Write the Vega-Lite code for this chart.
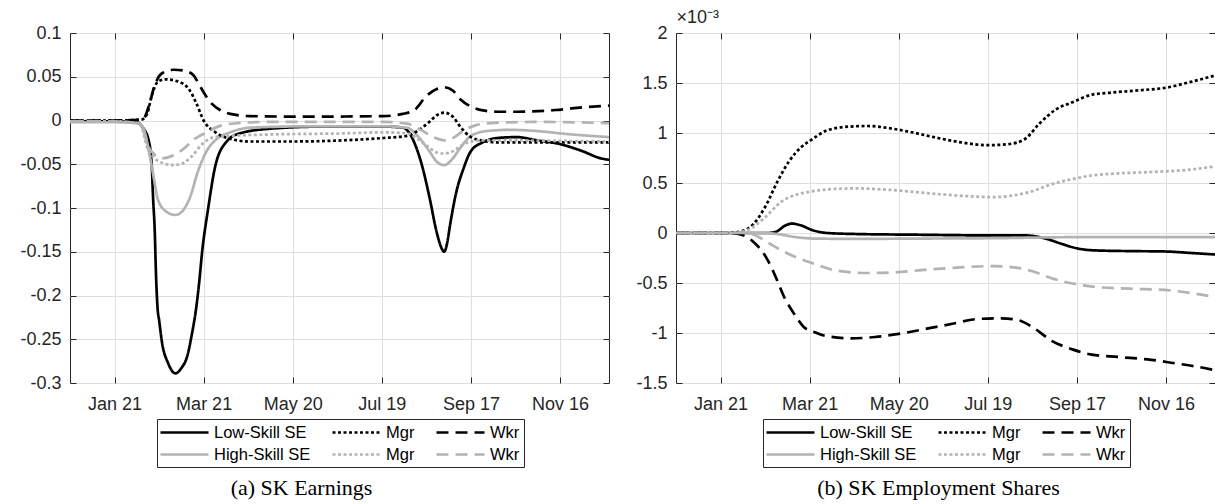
{
  "$schema": "https://vega.github.io/schema/vega-lite/v6.json",
  "background": "white",
  "padding": {"left": 19, "top": 7, "right": 1, "bottom": 6},
  "bounds": "flush",
  "spacing": 67,
  "config": {"view": {"stroke": "#262626", "strokeWidth": 1}},
  "datasets": {
    "earn": [
      {"date":"2019-12-22","series":"Low-Skill SE","value":-0.001},
      {"date":"2020-01-21","series":"Low-Skill SE","value":-0.001},
      {"date":"2020-02-05","series":"Low-Skill SE","value":-0.002},
      {"date":"2020-02-09","series":"Low-Skill SE","value":-0.008},
      {"date":"2020-02-13","series":"Low-Skill SE","value":-0.023},
      {"date":"2020-02-15","series":"Low-Skill SE","value":-0.05},
      {"date":"2020-02-16","series":"Low-Skill SE","value":-0.09},
      {"date":"2020-02-17","series":"Low-Skill SE","value":-0.123},
      {"date":"2020-02-18","series":"Low-Skill SE","value":-0.18},
      {"date":"2020-02-19","series":"Low-Skill SE","value":-0.215},
      {"date":"2020-02-20","series":"Low-Skill SE","value":-0.228},
      {"date":"2020-02-22","series":"Low-Skill SE","value":-0.254},
      {"date":"2020-02-26","series":"Low-Skill SE","value":-0.277},
      {"date":"2020-03-02","series":"Low-Skill SE","value":-0.289},
      {"date":"2020-03-06","series":"Low-Skill SE","value":-0.283},
      {"date":"2020-03-10","series":"Low-Skill SE","value":-0.269},
      {"date":"2020-03-13","series":"Low-Skill SE","value":-0.245},
      {"date":"2020-03-16","series":"Low-Skill SE","value":-0.214},
      {"date":"2020-03-18","series":"Low-Skill SE","value":-0.185},
      {"date":"2020-03-20","series":"Low-Skill SE","value":-0.15},
      {"date":"2020-03-24","series":"Low-Skill SE","value":-0.101},
      {"date":"2020-03-29","series":"Low-Skill SE","value":-0.051},
      {"date":"2020-04-06","series":"Low-Skill SE","value":-0.023},
      {"date":"2020-04-13","series":"Low-Skill SE","value":-0.0155},
      {"date":"2020-05-04","series":"Low-Skill SE","value":-0.0095},
      {"date":"2020-06-09","series":"Low-Skill SE","value":-0.007},
      {"date":"2020-07-20","series":"Low-Skill SE","value":-0.007},
      {"date":"2020-08-02","series":"Low-Skill SE","value":-0.008},
      {"date":"2020-08-07","series":"Low-Skill SE","value":-0.0155},
      {"date":"2020-08-11","series":"Low-Skill SE","value":-0.03},
      {"date":"2020-08-15","series":"Low-Skill SE","value":-0.051},
      {"date":"2020-08-20","series":"Low-Skill SE","value":-0.087},
      {"date":"2020-08-25","series":"Low-Skill SE","value":-0.128},
      {"date":"2020-08-28","series":"Low-Skill SE","value":-0.145},
      {"date":"2020-08-30","series":"Low-Skill SE","value":-0.15},
      {"date":"2020-09-01","series":"Low-Skill SE","value":-0.14},
      {"date":"2020-09-03","series":"Low-Skill SE","value":-0.119},
      {"date":"2020-09-07","series":"Low-Skill SE","value":-0.083},
      {"date":"2020-09-12","series":"Low-Skill SE","value":-0.055},
      {"date":"2020-09-17","series":"Low-Skill SE","value":-0.035},
      {"date":"2020-09-25","series":"Low-Skill SE","value":-0.025},
      {"date":"2020-10-05","series":"Low-Skill SE","value":-0.02},
      {"date":"2020-10-18","series":"Low-Skill SE","value":-0.019},
      {"date":"2020-10-31","series":"Low-Skill SE","value":-0.0225},
      {"date":"2020-11-16","series":"Low-Skill SE","value":-0.027},
      {"date":"2020-12-01","series":"Low-Skill SE","value":-0.035},
      {"date":"2020-12-13","series":"Low-Skill SE","value":-0.043},
      {"date":"2020-12-19","series":"Low-Skill SE","value":-0.045},

      {"date":"2019-12-22","series":"High-Skill SE","value":-0.002},
      {"date":"2020-01-21","series":"High-Skill SE","value":-0.002},
      {"date":"2020-02-06","series":"High-Skill SE","value":-0.003},
      {"date":"2020-02-10","series":"High-Skill SE","value":-0.0115},
      {"date":"2020-02-14","series":"High-Skill SE","value":-0.043},
      {"date":"2020-02-17","series":"High-Skill SE","value":-0.071},
      {"date":"2020-02-19","series":"High-Skill SE","value":-0.089},
      {"date":"2020-02-24","series":"High-Skill SE","value":-0.103},
      {"date":"2020-03-02","series":"High-Skill SE","value":-0.108},
      {"date":"2020-03-07","series":"High-Skill SE","value":-0.103},
      {"date":"2020-03-12","series":"High-Skill SE","value":-0.087},
      {"date":"2020-03-17","series":"High-Skill SE","value":-0.059},
      {"date":"2020-03-23","series":"High-Skill SE","value":-0.035},
      {"date":"2020-03-30","series":"High-Skill SE","value":-0.021},
      {"date":"2020-04-08","series":"High-Skill SE","value":-0.0135},
      {"date":"2020-04-21","series":"High-Skill SE","value":-0.0083},
      {"date":"2020-05-30","series":"High-Skill SE","value":-0.0067},
      {"date":"2020-07-20","series":"High-Skill SE","value":-0.0067},
      {"date":"2020-08-05","series":"High-Skill SE","value":-0.0083},
      {"date":"2020-08-12","series":"High-Skill SE","value":-0.0175},
      {"date":"2020-08-20","series":"High-Skill SE","value":-0.035},
      {"date":"2020-08-25","series":"High-Skill SE","value":-0.047},
      {"date":"2020-08-30","series":"High-Skill SE","value":-0.051},
      {"date":"2020-09-04","series":"High-Skill SE","value":-0.045},
      {"date":"2020-09-10","series":"High-Skill SE","value":-0.031},
      {"date":"2020-09-17","series":"High-Skill SE","value":-0.0175},
      {"date":"2020-09-28","series":"High-Skill SE","value":-0.012},
      {"date":"2020-10-13","series":"High-Skill SE","value":-0.0107},
      {"date":"2020-10-31","series":"High-Skill SE","value":-0.012},
      {"date":"2020-11-21","series":"High-Skill SE","value":-0.0155},
      {"date":"2020-12-19","series":"High-Skill SE","value":-0.019},

      {"date":"2019-12-22","series":"Low Mgr","value":0},
      {"date":"2020-01-21","series":"Low Mgr","value":0},
      {"date":"2020-02-08","series":"Low Mgr","value":0.001},
      {"date":"2020-02-12","series":"Low Mgr","value":0.008},
      {"date":"2020-02-15","series":"Low Mgr","value":0.028},
      {"date":"2020-02-19","series":"Low Mgr","value":0.044},
      {"date":"2020-02-24","series":"Low Mgr","value":0.047},
      {"date":"2020-03-03","series":"Low Mgr","value":0.045},
      {"date":"2020-03-11","series":"Low Mgr","value":0.036},
      {"date":"2020-03-16","series":"Low Mgr","value":0.02},
      {"date":"2020-03-21","series":"Low Mgr","value":0},
      {"date":"2020-03-29","series":"Low Mgr","value":-0.0135},
      {"date":"2020-04-08","series":"Low Mgr","value":-0.021},
      {"date":"2020-04-21","series":"Low Mgr","value":-0.024},
      {"date":"2020-05-20","series":"Low Mgr","value":-0.024},
      {"date":"2020-06-24","series":"Low Mgr","value":-0.0226},
      {"date":"2020-07-20","series":"Low Mgr","value":-0.02},
      {"date":"2020-08-05","series":"Low Mgr","value":-0.0175},
      {"date":"2020-08-12","series":"Low Mgr","value":-0.012},
      {"date":"2020-08-20","series":"Low Mgr","value":-0.0016},
      {"date":"2020-08-25","series":"Low Mgr","value":0.006},
      {"date":"2020-08-30","series":"Low Mgr","value":0.009},
      {"date":"2020-09-05","series":"Low Mgr","value":0.004},
      {"date":"2020-09-10","series":"Low Mgr","value":-0.0075},
      {"date":"2020-09-17","series":"Low Mgr","value":-0.019},
      {"date":"2020-09-25","series":"Low Mgr","value":-0.023},
      {"date":"2020-10-05","series":"Low Mgr","value":-0.025},
      {"date":"2020-10-31","series":"Low Mgr","value":-0.025},
      {"date":"2020-12-19","series":"Low Mgr","value":-0.025},

      {"date":"2019-12-22","series":"High Mgr","value":-0.001},
      {"date":"2020-01-21","series":"High Mgr","value":-0.001},
      {"date":"2020-02-07","series":"High Mgr","value":-0.003},
      {"date":"2020-02-12","series":"High Mgr","value":-0.031},
      {"date":"2020-02-17","series":"High Mgr","value":-0.043},
      {"date":"2020-02-23","series":"High Mgr","value":-0.049},
      {"date":"2020-03-01","series":"High Mgr","value":-0.051},
      {"date":"2020-03-07","series":"High Mgr","value":-0.049},
      {"date":"2020-03-13","series":"High Mgr","value":-0.041},
      {"date":"2020-03-20","series":"High Mgr","value":-0.027},
      {"date":"2020-03-28","series":"High Mgr","value":-0.019},
      {"date":"2020-04-08","series":"High Mgr","value":-0.0175},
      {"date":"2020-05-04","series":"High Mgr","value":-0.016},
      {"date":"2020-06-24","series":"High Mgr","value":-0.0147},
      {"date":"2020-07-20","series":"High Mgr","value":-0.0135},
      {"date":"2020-08-05","series":"High Mgr","value":-0.0147},
      {"date":"2020-08-12","series":"High Mgr","value":-0.021},
      {"date":"2020-08-20","series":"High Mgr","value":-0.031},
      {"date":"2020-08-25","series":"High Mgr","value":-0.0365},
      {"date":"2020-08-30","series":"High Mgr","value":-0.0377},
      {"date":"2020-09-05","series":"High Mgr","value":-0.035},
      {"date":"2020-09-12","series":"High Mgr","value":-0.027},
      {"date":"2020-09-22","series":"High Mgr","value":-0.023},
      {"date":"2020-10-05","series":"High Mgr","value":-0.0226},
      {"date":"2020-10-31","series":"High Mgr","value":-0.023},
      {"date":"2020-12-19","series":"High Mgr","value":-0.024},

      {"date":"2019-12-22","series":"Low Wkr","value":0},
      {"date":"2020-01-21","series":"Low Wkr","value":0},
      {"date":"2020-02-09","series":"Low Wkr","value":0.001},
      {"date":"2020-02-13","series":"Low Wkr","value":0.016},
      {"date":"2020-02-17","series":"Low Wkr","value":0.04},
      {"date":"2020-02-22","series":"Low Wkr","value":0.054},
      {"date":"2020-03-01","series":"Low Wkr","value":0.058},
      {"date":"2020-03-08","series":"Low Wkr","value":0.057},
      {"date":"2020-03-14","series":"Low Wkr","value":0.052},
      {"date":"2020-03-19","series":"Low Wkr","value":0.038},
      {"date":"2020-03-25","series":"Low Wkr","value":0.022},
      {"date":"2020-04-01","series":"Low Wkr","value":0.012},
      {"date":"2020-04-08","series":"Low Wkr","value":0.0075},
      {"date":"2020-04-21","series":"Low Wkr","value":0.005},
      {"date":"2020-05-30","series":"Low Wkr","value":0.0044},
      {"date":"2020-07-20","series":"Low Wkr","value":0.005},
      {"date":"2020-08-02","series":"Low Wkr","value":0.0075},
      {"date":"2020-08-10","series":"Low Wkr","value":0.012},
      {"date":"2020-08-18","series":"Low Wkr","value":0.028},
      {"date":"2020-08-25","series":"Low Wkr","value":0.036},
      {"date":"2020-08-30","series":"Low Wkr","value":0.038},
      {"date":"2020-09-05","series":"Low Wkr","value":0.034},
      {"date":"2020-09-10","series":"Low Wkr","value":0.024},
      {"date":"2020-09-17","series":"Low Wkr","value":0.016},
      {"date":"2020-09-25","series":"Low Wkr","value":0.0115},
      {"date":"2020-10-05","series":"Low Wkr","value":0.01},
      {"date":"2020-10-18","series":"Low Wkr","value":0.01},
      {"date":"2020-11-13","series":"Low Wkr","value":0.012},
      {"date":"2020-12-01","series":"Low Wkr","value":0.015},
      {"date":"2020-12-19","series":"Low Wkr","value":0.017},

      {"date":"2019-12-22","series":"High Wkr","value":-0.001},
      {"date":"2020-01-21","series":"High Wkr","value":-0.001},
      {"date":"2020-02-08","series":"High Wkr","value":-0.004},
      {"date":"2020-02-12","series":"High Wkr","value":-0.027},
      {"date":"2020-02-17","series":"High Wkr","value":-0.039},
      {"date":"2020-02-23","series":"High Wkr","value":-0.043},
      {"date":"2020-02-28","series":"High Wkr","value":-0.041},
      {"date":"2020-03-07","series":"High Wkr","value":-0.033},
      {"date":"2020-03-15","series":"High Wkr","value":-0.021},
      {"date":"2020-03-23","series":"High Wkr","value":-0.0135},
      {"date":"2020-04-02","series":"High Wkr","value":-0.0056},
      {"date":"2020-04-13","series":"High Wkr","value":-0.003},
      {"date":"2020-05-04","series":"High Wkr","value":-0.0016},
      {"date":"2020-07-20","series":"High Wkr","value":-0.0016},
      {"date":"2020-08-05","series":"High Wkr","value":-0.0036},
      {"date":"2020-08-15","series":"High Wkr","value":-0.0115},
      {"date":"2020-08-23","series":"High Wkr","value":-0.019},
      {"date":"2020-08-30","series":"High Wkr","value":-0.0226},
      {"date":"2020-09-06","series":"High Wkr","value":-0.019},
      {"date":"2020-09-12","series":"High Wkr","value":-0.0115},
      {"date":"2020-09-20","series":"High Wkr","value":-0.0056},
      {"date":"2020-09-30","series":"High Wkr","value":-0.003},
      {"date":"2020-10-31","series":"High Wkr","value":-0.0016},
      {"date":"2020-12-19","series":"High Wkr","value":-0.003}
    ],
    "emp": [
      {"date":"2019-12-22","series":"Low-Skill SE","value":0},
      {"date":"2020-02-22","series":"Low-Skill SE","value":0},
      {"date":"2020-02-28","series":"Low-Skill SE","value":0.000017},
      {"date":"2020-03-04","series":"Low-Skill SE","value":0.00007},
      {"date":"2020-03-09","series":"Low-Skill SE","value":0.000094},
      {"date":"2020-03-15","series":"Low-Skill SE","value":0.000077},
      {"date":"2020-03-23","series":"Low-Skill SE","value":0.000028},
      {"date":"2020-04-02","series":"Low-Skill SE","value":0},
      {"date":"2020-04-21","series":"Low-Skill SE","value":-0.00001},
      {"date":"2020-05-31","series":"Low-Skill SE","value":-0.000017},
      {"date":"2020-07-22","series":"Low-Skill SE","value":-0.000024},
      {"date":"2020-08-13","series":"Low-Skill SE","value":-0.000024},
      {"date":"2020-08-26","series":"Low-Skill SE","value":-0.000052},
      {"date":"2020-09-06","series":"Low-Skill SE","value":-0.000105},
      {"date":"2020-09-16","series":"Low-Skill SE","value":-0.00015},
      {"date":"2020-09-29","series":"Low-Skill SE","value":-0.000174},
      {"date":"2020-10-23","series":"Low-Skill SE","value":-0.000181},
      {"date":"2020-11-16","series":"Low-Skill SE","value":-0.000185},
      {"date":"2020-12-02","series":"Low-Skill SE","value":-0.000199},
      {"date":"2020-12-19","series":"Low-Skill SE","value":-0.000215},

      {"date":"2019-12-22","series":"High-Skill SE","value":0},
      {"date":"2020-02-20","series":"High-Skill SE","value":0},
      {"date":"2020-02-28","series":"High-Skill SE","value":-0.00001},
      {"date":"2020-03-12","series":"High-Skill SE","value":-0.000042},
      {"date":"2020-03-25","series":"High-Skill SE","value":-0.000056},
      {"date":"2020-04-21","series":"High-Skill SE","value":-0.000059},
      {"date":"2020-05-31","series":"High-Skill SE","value":-0.000056},
      {"date":"2020-07-23","series":"High-Skill SE","value":-0.000052},
      {"date":"2020-09-14","series":"High-Skill SE","value":-0.000042},
      {"date":"2020-12-19","series":"High-Skill SE","value":-0.000042},

      {"date":"2019-12-22","series":"Low Mgr","value":0},
      {"date":"2020-01-27","series":"Low Mgr","value":0},
      {"date":"2020-02-04","series":"Low Mgr","value":0.000017},
      {"date":"2020-02-12","series":"Low Mgr","value":0.000087},
      {"date":"2020-02-20","series":"Low Mgr","value":0.00026},
      {"date":"2020-02-28","series":"Low Mgr","value":0.000505},
      {"date":"2020-03-07","series":"Low Mgr","value":0.000714},
      {"date":"2020-03-15","series":"Low Mgr","value":0.000854},
      {"date":"2020-03-23","series":"Low Mgr","value":0.00094},
      {"date":"2020-04-02","series":"Low Mgr","value":0.001028},
      {"date":"2020-04-16","series":"Low Mgr","value":0.001063},
      {"date":"2020-04-29","series":"Low Mgr","value":0.00107},
      {"date":"2020-05-15","series":"Low Mgr","value":0.001045},
      {"date":"2020-05-31","series":"Low Mgr","value":0.001},
      {"date":"2020-06-16","series":"Low Mgr","value":0.000948},
      {"date":"2020-07-01","series":"Low Mgr","value":0.000906},
      {"date":"2020-07-19","series":"Low Mgr","value":0.000878},
      {"date":"2020-08-02","series":"Low Mgr","value":0.000889},
      {"date":"2020-08-13","series":"Low Mgr","value":0.00094},
      {"date":"2020-08-23","series":"Low Mgr","value":0.001098},
      {"date":"2020-09-03","series":"Low Mgr","value":0.001237},
      {"date":"2020-09-14","series":"Low Mgr","value":0.001307},
      {"date":"2020-09-27","series":"Low Mgr","value":0.001383},
      {"date":"2020-10-10","series":"Low Mgr","value":0.001404},
      {"date":"2020-10-31","series":"Low Mgr","value":0.001429},
      {"date":"2020-11-16","series":"Low Mgr","value":0.001453},
      {"date":"2020-12-02","series":"Low Mgr","value":0.001509},
      {"date":"2020-12-19","series":"Low Mgr","value":0.001575},

      {"date":"2019-12-22","series":"High Mgr","value":0},
      {"date":"2020-01-29","series":"High Mgr","value":0},
      {"date":"2020-02-09","series":"High Mgr","value":0.000035},
      {"date":"2020-02-20","series":"High Mgr","value":0.000157},
      {"date":"2020-03-02","series":"High Mgr","value":0.000314},
      {"date":"2020-03-12","series":"High Mgr","value":0.000383},
      {"date":"2020-03-20","series":"High Mgr","value":0.00041},
      {"date":"2020-04-02","series":"High Mgr","value":0.000436},
      {"date":"2020-04-21","series":"High Mgr","value":0.000446},
      {"date":"2020-05-09","series":"High Mgr","value":0.000436},
      {"date":"2020-05-31","series":"High Mgr","value":0.00041},
      {"date":"2020-06-21","series":"High Mgr","value":0.000383},
      {"date":"2020-07-09","series":"High Mgr","value":0.000366},
      {"date":"2020-07-22","series":"High Mgr","value":0.000359},
      {"date":"2020-08-04","series":"High Mgr","value":0.000373},
      {"date":"2020-08-18","series":"High Mgr","value":0.000418},
      {"date":"2020-08-31","series":"High Mgr","value":0.000488},
      {"date":"2020-09-14","series":"High Mgr","value":0.00054},
      {"date":"2020-09-27","series":"High Mgr","value":0.000575},
      {"date":"2020-10-10","series":"High Mgr","value":0.000592},
      {"date":"2020-11-06","series":"High Mgr","value":0.00061},
      {"date":"2020-11-27","series":"High Mgr","value":0.000627},
      {"date":"2020-12-19","series":"High Mgr","value":0.000665},

      {"date":"2019-12-22","series":"Low Wkr","value":0},
      {"date":"2020-01-27","series":"Low Wkr","value":0},
      {"date":"2020-02-04","series":"Low Wkr","value":-0.000017},
      {"date":"2020-02-12","series":"Low Wkr","value":-0.000087},
      {"date":"2020-02-20","series":"Low Wkr","value":-0.000226},
      {"date":"2020-02-25","series":"Low Wkr","value":-0.000368},
      {"date":"2020-02-28","series":"Low Wkr","value":-0.00047},
      {"date":"2020-03-04","series":"Low Wkr","value":-0.000645},
      {"date":"2020-03-11","series":"Low Wkr","value":-0.000818},
      {"date":"2020-03-17","series":"Low Wkr","value":-0.00094},
      {"date":"2020-03-24","series":"Low Wkr","value":-0.00099},
      {"date":"2020-04-02","series":"Low Wkr","value":-0.001033},
      {"date":"2020-04-18","series":"Low Wkr","value":-0.001054},
      {"date":"2020-05-04","series":"Low Wkr","value":-0.00104},
      {"date":"2020-05-20","series":"Low Wkr","value":-0.001009},
      {"date":"2020-06-08","series":"Low Wkr","value":-0.000957},
      {"date":"2020-06-26","series":"Low Wkr","value":-0.000905},
      {"date":"2020-07-12","series":"Low Wkr","value":-0.00086},
      {"date":"2020-07-28","series":"Low Wkr","value":-0.000853},
      {"date":"2020-08-08","series":"Low Wkr","value":-0.00087},
      {"date":"2020-08-18","series":"Low Wkr","value":-0.00094},
      {"date":"2020-08-31","series":"Low Wkr","value":-0.001078},
      {"date":"2020-09-14","series":"Low Wkr","value":-0.001164},
      {"date":"2020-09-27","series":"Low Wkr","value":-0.001216},
      {"date":"2020-10-15","series":"Low Wkr","value":-0.00124},
      {"date":"2020-11-06","series":"Low Wkr","value":-0.001268},
      {"date":"2020-11-22","series":"Low Wkr","value":-0.001303},
      {"date":"2020-12-07","series":"Low Wkr","value":-0.001337},
      {"date":"2020-12-19","series":"Low Wkr","value":-0.001372},

      {"date":"2019-12-22","series":"High Wkr","value":0},
      {"date":"2020-02-09","series":"High Wkr","value":0},
      {"date":"2020-02-15","series":"High Wkr","value":-0.000035},
      {"date":"2020-02-23","series":"High Wkr","value":-0.000105},
      {"date":"2020-03-02","series":"High Wkr","value":-0.000174},
      {"date":"2020-03-12","series":"High Wkr","value":-0.000244},
      {"date":"2020-03-23","series":"High Wkr","value":-0.000303},
      {"date":"2020-04-08","series":"High Wkr","value":-0.000376},
      {"date":"2020-04-29","series":"High Wkr","value":-0.0004},
      {"date":"2020-05-17","series":"High Wkr","value":-0.000394},
      {"date":"2020-06-08","series":"High Wkr","value":-0.000366},
      {"date":"2020-06-26","series":"High Wkr","value":-0.000348},
      {"date":"2020-07-23","series":"High Wkr","value":-0.000331},
      {"date":"2020-08-08","series":"High Wkr","value":-0.000348},
      {"date":"2020-08-18","series":"High Wkr","value":-0.000383},
      {"date":"2020-08-31","series":"High Wkr","value":-0.000453},
      {"date":"2020-09-14","series":"High Wkr","value":-0.000505},
      {"date":"2020-09-30","series":"High Wkr","value":-0.00054},
      {"date":"2020-10-23","series":"High Wkr","value":-0.000557},
      {"date":"2020-11-19","series":"High Wkr","value":-0.000575},
      {"date":"2020-12-19","series":"High Wkr","value":-0.00064}
    ]
  },
  "resolve": {
    "scale": {"x": "independent", "y": "independent", "color": "independent", "strokeDash": "independent"},
    "legend": {"color": "independent", "strokeDash": "independent"}
  },
  "hconcat": [
    {
      "width": 539,
      "height": 350,
      "data": {"name": "earn"},
      "resolve": {"axis": {"x": "independent", "y": "independent"}},
      "layer": [
        {
          "mark": {"type": "line", "strokeWidth": 2.7, "interpolate": "monotone", "clip": true},
          "encoding": {
            "x": {
              "field": "date", "type": "temporal",
              "scale": {"type": "utc", "domain": [{"year": 2019, "month": 12, "date": 22, "utc": true}, {"year": 2020, "month": 12, "date": 19, "utc": true}]},
              "axis": {
                "orient": "bottom",
                "values": [{"year": 2020, "month": 1, "date": 21, "utc": true}, {"year": 2020, "month": 3, "date": 21, "utc": true}, {"year": 2020, "month": 5, "date": 20, "utc": true}, {"year": 2020, "month": 7, "date": 19, "utc": true}, {"year": 2020, "month": 9, "date": 17, "utc": true}, {"year": 2020, "month": 11, "date": 16, "utc": true}],
                "labelExpr": "utcFormat(datum.value, '%b %d')",
                "grid": true, "gridColor": "#dfdfdf", "gridWidth": 1,
                "domain": false, "tickSize": -6, "tickColor": "#262626", "tickWidth": 1,
                "labelFont": "Liberation Sans", "labelFontSize": 18, "labelColor": "#262626", "labelPadding": 18,
                "labelFlush": false, "labelOverlap": false, "labelBound": false,
                "title": "(a) SK Earnings", "titleFont": "Liberation Serif", "titleFontSize": 22, "titleFontWeight": "normal", "titleColor": "#000",
                "titleX": 231, "titleY": 111, "titleBaseline": "alphabetic", "titleAlign": "center"
              }
            },
            "y": {
              "field": "value", "type": "quantitative",
              "scale": {"domain": [-0.3, 0.1], "nice": false, "zero": false},
              "axis": {
                "orient": "left",
                "values": [-0.3, -0.25, -0.2, -0.15, -0.1, -0.05, 0, 0.05, 0.1],
                "labelExpr": "'' + round(datum.value * 100) / 100",
                "grid": true, "gridColor": "#dfdfdf", "gridWidth": 1,
                "domain": false, "tickSize": -6, "tickColor": "#262626", "tickWidth": 1,
                "labelFont": "Liberation Sans", "labelFontSize": 18, "labelColor": "#262626", "labelPadding": 15,
                "labelFlush": false, "labelOverlap": false, "labelBound": false,
                "title": null
              }
            },
            "color": {
              "field": "series", "type": "nominal",
              "scale": {"domain": ["Low-Skill SE", "Low Mgr", "Low Wkr", "High-Skill SE", "High Mgr", "High Wkr"], "range": ["#000000", "#000000", "#000000", "#b3b3b3", "#b3b3b3", "#b3b3b3"]},
              "legend": {"orient": "none", "legendX": 87, "legendY": 386, "columns": 3, "direction": "horizontal", "title": null,
                "symbolType": "M-3,0H3", "symbolSize": 256, "symbolStrokeWidth": 2.7, "symbolOffset": 14,
                "labelFont": "Liberation Sans", "labelFontSize": 16.5, "labelColor": "#000000", "labelOffset": 20, "labelLimit": 300,
                "labelExpr": "replace(replace(datum.label, 'Low ', ''), 'High ', '')",
                "strokeColor": "#262626", "fillColor": "#ffffff", "padding": 4, "rowPadding": 4, "columnPadding": 16}
            },
            "strokeDash": {
              "field": "series", "type": "nominal",
              "scale": {"domain": ["Low-Skill SE", "Low Mgr", "Low Wkr", "High-Skill SE", "High Mgr", "High Wkr"], "range": [[1, 0], [3, 2.5], [12, 7], [1, 0], [3, 2.5], [12, 7]]},
              "legend": {"orient": "none", "legendX": 87, "legendY": 386, "columns": 3, "direction": "horizontal", "title": null,
                "symbolType": "M-3,0H3", "symbolSize": 256, "symbolStrokeWidth": 2.7, "symbolOffset": 14,
                "labelFont": "Liberation Sans", "labelFontSize": 16.5, "labelColor": "#000000", "labelOffset": 20, "labelLimit": 300,
                "labelExpr": "replace(replace(datum.label, 'Low ', ''), 'High ', '')",
                "strokeColor": "#262626", "fillColor": "#ffffff", "padding": 4, "rowPadding": 4, "columnPadding": 16}
            }
          }
        },
        {
          "mark": {"type": "line", "opacity": 0},
          "encoding": {
            "x": {
              "field": "date", "type": "temporal",
              "scale": {"type": "utc", "domain": [{"year": 2019, "month": 12, "date": 22, "utc": true}, {"year": 2020, "month": 12, "date": 19, "utc": true}]},
              "axis": {
                "orient": "top",
                "values": [{"year": 2020, "month": 1, "date": 21, "utc": true}, {"year": 2020, "month": 3, "date": 21, "utc": true}, {"year": 2020, "month": 5, "date": 20, "utc": true}, {"year": 2020, "month": 7, "date": 19, "utc": true}, {"year": 2020, "month": 9, "date": 17, "utc": true}, {"year": 2020, "month": 11, "date": 16, "utc": true}],
                "labels": false, "grid": false, "domain": false, "tickSize": -6, "tickColor": "#262626", "tickWidth": 1, "title": null
              }
            },
            "y": {
              "field": "value", "type": "quantitative",
              "scale": {"domain": [-0.3, 0.1], "nice": false, "zero": false},
              "axis": {
                "orient": "right",
                "values": [-0.3, -0.25, -0.2, -0.15, -0.1, -0.05, 0, 0.05, 0.1],
                "labels": false, "grid": false, "domain": false, "tickSize": -6, "tickColor": "#262626", "tickWidth": 1, "title": null
              }
            }
          }
        }
      ]
    },
    {
      "width": 539,
      "height": 350,
      "data": {"name": "emp"},
      "resolve": {"axis": {"x": "independent", "y": "independent"}},
      "layer": [
        {
          "mark": {"type": "line", "strokeWidth": 2.7, "interpolate": "monotone", "clip": true},
          "encoding": {
            "x": {
              "field": "date", "type": "temporal",
              "scale": {"type": "utc", "domain": [{"year": 2019, "month": 12, "date": 22, "utc": true}, {"year": 2020, "month": 12, "date": 19, "utc": true}]},
              "axis": {
                "orient": "bottom",
                "values": [{"year": 2020, "month": 1, "date": 21, "utc": true}, {"year": 2020, "month": 3, "date": 21, "utc": true}, {"year": 2020, "month": 5, "date": 20, "utc": true}, {"year": 2020, "month": 7, "date": 19, "utc": true}, {"year": 2020, "month": 9, "date": 17, "utc": true}, {"year": 2020, "month": 11, "date": 16, "utc": true}],
                "labelExpr": "utcFormat(datum.value, '%b %d')",
                "grid": true, "gridColor": "#dfdfdf", "gridWidth": 1,
                "domain": false, "tickSize": -6, "tickColor": "#262626", "tickWidth": 1,
                "labelFont": "Liberation Sans", "labelFontSize": 18, "labelColor": "#262626", "labelPadding": 18,
                "labelFlush": false, "labelOverlap": false, "labelBound": false,
                "title": "(b) SK Employment Shares", "titleFont": "Liberation Serif", "titleFontSize": 22, "titleFontWeight": "normal", "titleColor": "#000",
                "titleX": 262, "titleY": 111, "titleBaseline": "alphabetic", "titleAlign": "center"
              }
            },
            "y": {
              "field": "value", "type": "quantitative",
              "scale": {"domain": [-0.0015, 0.002], "nice": false, "zero": false},
              "axis": {
                "orient": "left",
                "values": [-0.0015, -0.001, -0.0005, 0, 0.0005, 0.001, 0.0015, 0.002],
                "labelExpr": "'' + round(datum.value * 10000) / 10",
                "grid": true, "gridColor": "#dfdfdf", "gridWidth": 1,
                "domain": false, "tickSize": -6, "tickColor": "#262626", "tickWidth": 1,
                "labelFont": "Liberation Sans", "labelFontSize": 18, "labelColor": "#262626", "labelPadding": 15,
                "labelFlush": false, "labelOverlap": false, "labelBound": false,
                "title": "×10⁻³", "titleAngle": 0, "titleX": 0, "titleY": -7, "titleAlign": "left", "titleBaseline": "bottom",
                "titleFont": "Liberation Sans", "titleFontSize": 18, "titleFontWeight": "normal", "titleColor": "#262626"
              }
            },
            "color": {
              "field": "series", "type": "nominal",
              "scale": {"domain": ["Low-Skill SE", "Low Mgr", "Low Wkr", "High-Skill SE", "High Mgr", "High Wkr"], "range": ["#000000", "#000000", "#000000", "#b3b3b3", "#b3b3b3", "#b3b3b3"]},
              "legend": {"orient": "none", "legendX": 87, "legendY": 386, "columns": 3, "direction": "horizontal", "title": null,
                "symbolType": "M-3,0H3", "symbolSize": 256, "symbolStrokeWidth": 2.7, "symbolOffset": 14,
                "labelFont": "Liberation Sans", "labelFontSize": 16.5, "labelColor": "#000000", "labelOffset": 20, "labelLimit": 300,
                "labelExpr": "replace(replace(datum.label, 'Low ', ''), 'High ', '')",
                "strokeColor": "#262626", "fillColor": "#ffffff", "padding": 4, "rowPadding": 4, "columnPadding": 16}
            },
            "strokeDash": {
              "field": "series", "type": "nominal",
              "scale": {"domain": ["Low-Skill SE", "Low Mgr", "Low Wkr", "High-Skill SE", "High Mgr", "High Wkr"], "range": [[1, 0], [3, 2.5], [12, 7], [1, 0], [3, 2.5], [12, 7]]},
              "legend": {"orient": "none", "legendX": 87, "legendY": 386, "columns": 3, "direction": "horizontal", "title": null,
                "symbolType": "M-3,0H3", "symbolSize": 256, "symbolStrokeWidth": 2.7, "symbolOffset": 14,
                "labelFont": "Liberation Sans", "labelFontSize": 16.5, "labelColor": "#000000", "labelOffset": 20, "labelLimit": 300,
                "labelExpr": "replace(replace(datum.label, 'Low ', ''), 'High ', '')",
                "strokeColor": "#262626", "fillColor": "#ffffff", "padding": 4, "rowPadding": 4, "columnPadding": 16}
            }
          }
        },
        {
          "mark": {"type": "line", "opacity": 0},
          "encoding": {
            "x": {
              "field": "date", "type": "temporal",
              "scale": {"type": "utc", "domain": [{"year": 2019, "month": 12, "date": 22, "utc": true}, {"year": 2020, "month": 12, "date": 19, "utc": true}]},
              "axis": {
                "orient": "top",
                "values": [{"year": 2020, "month": 1, "date": 21, "utc": true}, {"year": 2020, "month": 3, "date": 21, "utc": true}, {"year": 2020, "month": 5, "date": 20, "utc": true}, {"year": 2020, "month": 7, "date": 19, "utc": true}, {"year": 2020, "month": 9, "date": 17, "utc": true}, {"year": 2020, "month": 11, "date": 16, "utc": true}],
                "labels": false, "grid": false, "domain": false, "tickSize": -6, "tickColor": "#262626", "tickWidth": 1, "title": null
              }
            },
            "y": {
              "field": "value", "type": "quantitative",
              "scale": {"domain": [-0.0015, 0.002], "nice": false, "zero": false},
              "axis": {
                "orient": "right",
                "values": [-0.0015, -0.001, -0.0005, 0, 0.0005, 0.001, 0.0015, 0.002],
                "labels": false, "grid": false, "domain": false, "tickSize": -6, "tickColor": "#262626", "tickWidth": 1, "title": null
              }
            }
          }
        }
      ]
    }
  ]
}
